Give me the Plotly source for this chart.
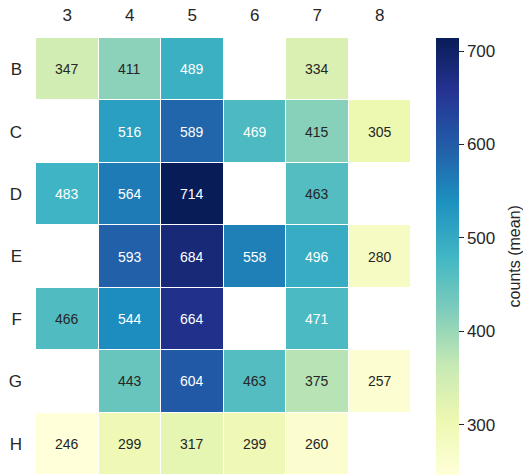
import plotly.graph_objects as go

# Mean counts per row letter (B..H) and column number (3..8); None = no data
columns = ["3", "4", "5", "6", "7", "8"]
rows = ["B", "C", "D", "E", "F", "G", "H"]
row_B = [347, 411, 489, None, 334, None]
row_C = [None, 516, 589, 469, 415, 305]
row_D = [483, 564, 714, None, 463, None]
row_E = [None, 593, 684, 558, 496, 280]
row_F = [466, 544, 664, None, 471, None]
row_G = [None, 443, 604, 463, 375, 257]
row_H = [246, 299, 317, 299, 260, None]
values = [row_B, row_C, row_D, row_E, row_F, row_G, row_H]

ylgnbu = [
    [0.0, "#ffffd9"], [0.125, "#edf8b1"], [0.25, "#c7e9b4"], [0.375, "#7fcdbb"],
    [0.5, "#41b6c4"], [0.625, "#1d91c0"], [0.75, "#225ea8"], [0.875, "#253494"],
    [1.0, "#081d58"],
]

flat = [v for r in values for v in r if v is not None]
zmin, zmax = min(flat), max(flat)
dark = "#262626"
font_family = "Liberation Sans, Arial, sans-serif"

fig = go.Figure(
    go.Heatmap(
        z=values,
        x=columns,
        y=rows,
        colorscale=ylgnbu,
        zmin=zmin,
        zmax=zmax,
        xgap=1,
        ygap=1,
        hoverongaps=False,
        colorbar=dict(
            thickness=23,
            len=1,
            lenmode="fraction",
            y=0,
            yanchor="bottom",
            x=1.0667,
            xanchor="left",
            xpad=0,
            ypad=0,
            outlinewidth=0,
            ticks="outside",
            ticklen=5,
            tickwidth=1,
            tickcolor=dark,
            tickvals=[300, 400, 500, 600, 700],
            tickfont=dict(size=17, color=dark, family=font_family),
        ),
    )
)

# Cell labels: light text on dark cells, dark text on light cells
annotations = []
for yi, r in enumerate(values):
    for xi, v in enumerate(r):
        if v is None:
            continue
        frac = (v - zmin) / (zmax - zmin)
        annotations.append(dict(
            x=xi, y=yi, text=str(v), showarrow=False,
            font=dict(size=14, color="white" if frac > 0.475 else dark,
                      family=font_family),
        ))

annotations.append(dict(
    xref="paper", yref="paper", x=1.277, y=0.5, text="counts (mean)",
    textangle=-90, showarrow=False, xanchor="center", yanchor="middle",
    font=dict(size=16, color=dark, family=font_family),
))

fig.update_layout(
    width=523,
    height=475,
    margin=dict(l=36, r=112, t=38, b=0),
    paper_bgcolor="white",
    plot_bgcolor="white",
    font=dict(family=font_family, color=dark),
    annotations=annotations,
    xaxis=dict(type="category", side="top", showgrid=False, zeroline=False,
               ticks="", ticklabelstandoff=13,
               tickfont=dict(size=17, color=dark)),
    yaxis=dict(type="category", autorange="reversed", showgrid=False,
               zeroline=False, ticks="", ticklabelstandoff=13,
               tickfont=dict(size=17, color=dark)),
)

fig.write_html("out.html")
